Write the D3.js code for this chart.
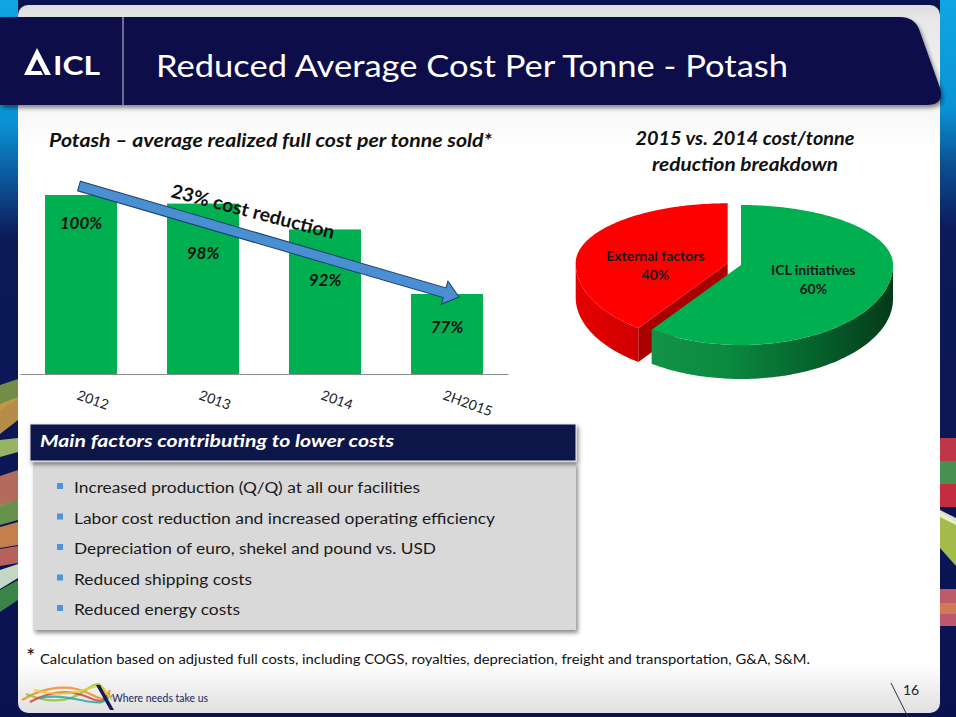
<!DOCTYPE html>
<html>
<head>
<meta charset="utf-8">
<script src="https://cdn.jsdelivr.net/npm/d3@7"></script>
<style>
  body { margin: 0; background: #0b1250; }
  svg { display: block; font-family: Lato, 'Open Sans', sans-serif; }
</style>
</head>
<body>
<script>
const width = 956
const height = 717

// chart data
const categories = ['2012', '2013', '2014', '2H2015']
const costShare = [100, 98, 92, 77]
const arrowLabel = '23% cost reduction'
const pieNames = ['ICL initiatives', 'External factors']
const pieShares = [60, 40]
const factors = [
  'Increased production (Q/Q) at all our facilities',
  'Labor cost reduction and increased operating efficiency',
  'Depreciation of euro, shekel and pound vs. USD',
  'Reduced shipping costs',
  'Reduced energy costs'
]

// layout bits (not data)
const labelDy = [34, 55, 57, 39]
const factorWidths = [346, 421, 362, 178, 166]
const pieExplode = [0, 14]

const fit = (sel, w) => sel.attr('textLength', w).attr('lengthAdjust', 'spacingAndGlyphs')

const svg = d3.select('body')
  .append('svg')
  .attr('width', width)
  .attr('height', height)

const defs = svg.append('defs')

function vGrad(id, stops, x1 = 0, y1 = 0, x2 = 0, y2 = 1, units) {
  const g = defs.append('linearGradient').attr('id', id)
    .attr('x1', x1).attr('y1', y1).attr('x2', x2).attr('y2', y2)
  if (units) g.attr('gradientUnits', units)
  stops.forEach(s => g.append('stop').attr('offset', s[0]).attr('stop-color', s[1]))
}
vGrad('stripL', [[0, '#10a6e2'], [0.17, '#0a93d4'], [0.26, '#0b4f92'], [0.33, '#0c1a5a'], [1, '#0b1250']])
vGrad('stripR', [[0, '#10a6e2'], [0.15, '#0a93d4'], [0.23, '#0b4f92'], [0.32, '#0c1a5a'], [1, '#0b1250']])
vGrad('card', [[0, '#dcdcdc'], [0.02, '#e8e8e8'], [0.15, '#f7f7f7'], [0.2, '#ffffff'], [0.93, '#ffffff'], [1, '#e0e0e0']])

const shadow = defs.append('filter').attr('id', 'shadow').attr('x', '-5%').attr('y', '-10%').attr('width', '115%').attr('height', '130%')
shadow.append('feDropShadow').attr('dx', 2).attr('dy', 3).attr('stdDeviation', 2).attr('flood-color', '#000').attr('flood-opacity', 0.45)

// background strips
svg.append('rect').attr('x', 0).attr('y', 0).attr('width', 18).attr('height', height).attr('fill', 'url(#stripL)')
svg.append('rect').attr('x', 940).attr('y', 0).attr('width', 16).attr('height', height).attr('fill', 'url(#stripR)')

const stripesL = [
  ['#7d9a44', 'M0,385 L18,379 L18,398 L0,411 Z'],
  ['#c99a45', 'M0,404 L18,397 L18,420 L0,434 Z'],
  ['#a6c466', 'M0,440 L18,438 L18,452 L0,457 Z'],
  ['#c4765c', 'M0,476 L18,470 L18,500 L0,507 Z'],
  ['#6fa04a', 'M0,505 L18,500 L18,520 L0,525 Z'],
  ['#d98a4e', 'M0,527 L18,522 L18,545 L0,548 Z'],
  ['#c86a5c', 'M0,549 L18,546 L18,563 L0,566 Z'],
  ['#d8ecd0', 'M0,570 L18,564 L18,578 L0,589 Z'],
  ['#3f8f48', 'M0,590 L18,580 L18,600 L0,612 Z']
]
const stripesR = [
  ['#d23a48', 'M940,438 L956,438 L956,461 L940,461 Z'],
  ['#4c9e52', 'M940,461 L956,461 L956,484 L940,484 Z'],
  ['#d8303e', 'M940,484 L956,484 L956,507 L940,507 Z'],
  ['#b5cc4a', 'M940,512 L956,522 L956,566 L940,548 Z'],
  ['#eef4d8', 'M940,510 L956,518 L956,525 L940,517 Z'],
  ['#d2636e', 'M940,589 L956,589 L956,603 L940,603 Z'],
  ['#e58656', 'M940,603 L956,603 L956,614 L940,614 Z'],
  ['#cf5f70', 'M940,614 L956,614 L956,626 L940,626 Z']
]
svg.append('g').selectAll('path').data(stripesL.concat(stripesR)).join('path')
  .attr('d', d => d[1]).attr('fill', d => d[0]).attr('opacity', 0.9)

// white card
svg.append('rect')
  .attr('x', 18).attr('y', 5).attr('width', 922).attr('height', 708).attr('rx', 10)
  .attr('fill', 'url(#card)')

// header band
svg.append('path')
  .attr('d', 'M0,17 H900 Q914,17 919,29 L940,88 Q945,105 927,105 H0 Z')
  .attr('fill', '#0a1049')
  .attr('filter', 'url(#shadow)')

svg.append('line').attr('x1', 123).attr('x2', 123).attr('y1', 17).attr('y2', 105)
  .attr('stroke', '#c9cde0').attr('stroke-width', 1)

// ICL logo
svg.append('path')
  .attr('d', 'M24,75 L37,48 L51,75 L45,75 L37,59 L31,71 L41,71 L43,75 Z')
  .attr('fill', '#fff')
svg.append('text').text('ICL')
  .attr('x', 53).attr('y', 75).attr('fill', '#fff')
  .attr('font-size', 26).attr('font-weight', 'bold')
  .call(fit, 47)

svg.append('text').text('Reduced Average Cost Per Tonne - Potash')
  .attr('x', 156).attr('y', 77).attr('fill', '#fff')
  .attr('font-size', 31)
  .call(fit, 632)

// ---- bar chart ----
svg.append('text').text('Potash \u2013 average realized full cost per tonne sold*')
  .attr('x', 49).attr('y', 147)
  .attr('font-size', 18).attr('font-weight', 'bold').attr('font-style', 'italic')
  .attr('fill', '#111')
  .call(fit, 443)

const xScale = d3.scaleBand()
  .domain(categories)
  .range([20, 508])
  .paddingInner(0.41)
  .paddingOuter(0.205)

const yScale = d3.scaleLinear()
  .domain([58.4, 100])
  .range([374, 195])

const bars = categories.map((c, i) => ({ cat: c, value: costShare[i], dy: labelDy[i] }))

svg.append('g').selectAll('rect')
  .data(bars)
  .join('rect')
  .attr('x', d => xScale(d.cat))
  .attr('y', d => yScale(d.value))
  .attr('width', xScale.bandwidth())
  .attr('height', d => yScale.range()[0] - yScale(d.value))
  .attr('fill', '#00b050')

svg.append('g').selectAll('text')
  .data(bars)
  .join('text')
  .text(d => d.value + '%')
  .attr('x', d => xScale(d.cat) + xScale.bandwidth() / 2)
  .attr('y', d => yScale(d.value) + d.dy)
  .attr('text-anchor', 'middle')
  .attr('font-size', 17).attr('font-weight', 'bold').attr('font-style', 'italic')
  .attr('fill', '#111')

const xAxis = d3.axisBottom(xScale).tickSize(0).tickSizeOuter(0)

svg.append('g')
  .attr('transform', 'translate(0,' + yScale.range()[0] + ')')
  .call(xAxis)
  .call(g => g.select('.domain').attr('stroke', '#8c8c8c'))
  .call(g => g.selectAll('text')
    .attr('y', 0).attr('dy', 0).attr('x', 0)
    .attr('text-anchor', 'start')
    .attr('transform', 'translate(-5,25) rotate(20)')
    .attr('font-family', 'Lato, sans-serif')
    .attr('font-size', 14)
    .attr('fill', '#222'))

// trend arrow from first bar to last bar
const first = bars[0], last = bars[bars.length - 1]
const tail = [xScale(first.cat) + xScale.bandwidth() / 2 - 2, yScale(first.value) - 9]
const tip = [xScale(last.cat) + xScale.bandwidth() / 2 + 12, yScale(last.value) + 3]
const arrowLen = Math.hypot(tip[0] - tail[0], tip[1] - tail[1])
const arrowAng = Math.atan2(tip[1] - tail[1], tip[0] - tail[0]) * 180 / Math.PI
const hl = 15, sw = 5, hw = 12
svg.append('path')
  .attr('d', d3.line()([[0, -sw], [arrowLen - hl, -sw], [arrowLen - hl, -hw], [arrowLen, 0],
    [arrowLen - hl, hw], [arrowLen - hl, sw], [0, sw]]) + 'Z')
  .attr('transform', `translate(${tail[0]},${tail[1]}) rotate(${arrowAng})`)
  .attr('fill', '#4a8fd1')
  .attr('stroke', '#1f3f73')
  .attr('stroke-width', 1)

svg.append('text').text(arrowLabel)
  .attr('transform', 'translate(170,197) rotate(14.5)')
  .attr('font-size', 19).attr('font-weight', 'bold')
  .attr('fill', '#111')
  .call(fit, 168)

// ---- 3D pie ----
svg.append('text').text('2015 vs. 2014 cost/tonne')
  .attr('x', 745).attr('y', 145).attr('text-anchor', 'middle')
  .attr('font-size', 18).attr('font-weight', 'bold').attr('font-style', 'italic').attr('fill', '#111')
  .call(fit, 219)
svg.append('text').text('reduction breakdown')
  .attr('x', 745).attr('y', 171).attr('text-anchor', 'middle')
  .attr('font-size', 18).attr('font-weight', 'bold').attr('font-style', 'italic').attr('fill', '#111')
  .call(fit, 186)

// perspective: the back half of the disc is flatter than the front half
const pieCx = 741, pieCy = 265, rx = 152, ryBack = 60, ryFront = 80, depth = 34
const pieTop = ['#00b050', '#ff0000']
const pieWall = ['#0a7a38', '#a80000']

vGrad('sideG', [[0, '#1a9a4c'], [0.45, '#0b8a40'], [0.75, '#06612c'], [1, '#033a19']], pieCx - rx, 0, pieCx + rx, 0, 'userSpaceOnUse')
vGrad('sideR', [[0, '#e60000'], [0.5, '#c80000'], [1, '#a00000']], pieCx - rx - 14, 0, pieCx, 0, 'userSpaceOnUse')
const pieSide = ['url(#sideG)', 'url(#sideR)']

const pt = (a, o, z) => {
  const c = Math.cos(a)
  return [pieCx + o[0] + rx * Math.sin(a), pieCy + o[1] - (c > 0 ? ryBack : ryFront) * c + z]
}
const rim = (a0, a1, o, z) => {
  const n = Math.max(2, Math.ceil(Math.abs(a1 - a0) / 0.02))
  return d3.range(n + 1).map(i => pt(a0 + (a1 - a0) * i / n, o, z))
}
const line = d3.line()

const arcs = d3.pie().sort(null)(pieShares).map((a, i) => {
  const mid = (a.startAngle + a.endAngle) / 2
  const o = [pieExplode[i] * Math.sin(mid), -pieExplode[i] * Math.cos(mid) * ryBack / rx]
  return { ...a, i, mid, o, name: pieNames[i] }
})

const pieG = svg.append('g')
// red (exploded) slice first, green in front
arcs.slice().reverse().forEach(d => {
  const g = pieG.append('g')
  const c = [pieCx + d.o[0], pieCy + d.o[1]]
  // radial walls facing the viewer
  if (Math.sin(d.startAngle) < -0.01) {
    const p = pt(d.startAngle, d.o, 0)
    g.append('path').attr('d', line([c, p, [p[0], p[1] + depth], [c[0], c[1] + depth]]) + 'Z')
      .attr('fill', pieWall[d.i])
  }
  if (Math.sin(d.endAngle) > 0.01) {
    const p = pt(d.endAngle, d.o, 0)
    g.append('path').attr('d', line([c, p, [p[0], p[1] + depth], [c[0], c[1] + depth]]) + 'Z')
      .attr('fill', pieWall[d.i])
  }
  // outer wall (front half only)
  const s = Math.max(d.startAngle, Math.PI / 2), e = Math.min(d.endAngle, Math.PI * 1.5)
  if (e > s) {
    const pts = rim(s, e, d.o, 0).concat(rim(e, s, d.o, depth))
    g.append('path').attr('d', line(pts) + 'Z').attr('fill', pieSide[d.i])
  }
  // top face
  g.append('path').attr('d', line([c].concat(rim(d.startAngle, d.endAngle, d.o, 0))) + 'Z')
    .attr('fill', pieTop[d.i])
})

const pieLabels = svg.append('g').selectAll('g')
  .data(arcs)
  .join('g')
  .attr('transform', d => {
    const p = pt(d.mid, d.o, 0)
    const c = [pieCx + d.o[0], pieCy + d.o[1]]
    return `translate(${c[0] + (p[0] - c[0]) * 0.5},${c[1] + (p[1] - c[1]) * 0.3})`
  })
pieLabels.append('text').text(d => d.name)
  .attr('y', 3).attr('text-anchor', 'middle')
  .attr('font-size', 14).attr('font-weight', 'bold').attr('fill', '#1a1a1a')
pieLabels.append('text').text(d => d.data + '%')
  .attr('y', 22).attr('text-anchor', 'middle')
  .attr('font-size', 14).attr('font-weight', 'bold').attr('fill', '#1a1a1a')

// ---- factors box ----
svg.append('rect').attr('x', 33).attr('y', 463).attr('width', 543).attr('height', 167)
  .attr('fill', '#d9d9d9').attr('filter', 'url(#shadow)')
svg.append('rect').attr('x', 30).attr('y', 424).attr('width', 546).attr('height', 37)
  .attr('fill', '#10174a').attr('stroke', '#e8e8f0').attr('stroke-width', 1)
  .attr('filter', 'url(#shadow)')
svg.append('text').text('Main factors contributing to lower costs')
  .attr('x', 40).attr('y', 447)
  .attr('font-size', 17).attr('font-weight', 'bold').attr('font-style', 'italic').attr('fill', '#fff')
  .call(fit, 354)

const rowY = d3.scalePoint().domain(d3.range(factors.length)).range([487, 609])
const rows = svg.append('g').selectAll('g')
  .data(factors)
  .join('g')
  .attr('transform', (d, i) => `translate(0,${rowY(i)})`)
rows.append('rect').attr('x', 57).attr('y', -4).attr('width', 6).attr('height', 6).attr('fill', '#4f93d8')
rows.append('text').text(d => d)
  .attr('x', 74).attr('y', 6)
  .attr('font-size', 15.5).attr('fill', '#1a1a1a')
  .each(function (d, i) { d3.select(this).call(fit, factorWidths[i]) })

// footnote
svg.append('text').text('*').attr('x', 26).attr('y', 664).attr('font-size', 22).attr('fill', '#111')
svg.append('text')
  .text('Calculation based on adjusted full costs, including COGS, royalties, depreciation, freight and transportation, G&A, S&M.')
  .attr('x', 40).attr('y', 664)
  .attr('font-size', 13.5).attr('fill', '#111')
  .call(fit, 770)

// footer logo
const ribbons = [
  ['#e8932c', 'M22,700 C45,686 70,684 88,693 S104,700 110,690'],
  ['#8cc63f', 'M26,694 C50,704 70,702 86,690 S100,686 108,696'],
  ['#d9433b', 'M30,702 C52,690 72,690 90,698 S104,694 110,694'],
  ['#2aa8a0', 'M40,698 C60,694 76,700 92,702 S104,698 112,696'],
  ['#f0c93a', 'M34,690 C56,696 74,694 90,688 S104,692 112,700']
]
svg.append('g').selectAll('path').data(ribbons).join('path')
  .attr('d', d => d[1]).attr('fill', 'none').attr('stroke', d => d[0])
  .attr('stroke-width', 2.2).attr('opacity', 0.85)
svg.append('path').attr('d', 'M96,685 L100,685 L114,710 L110,710 Z').attr('fill', '#131a55')
svg.append('text').text('Where needs take us')
  .attr('x', 112).attr('y', 702).attr('font-size', 12).attr('fill', '#1a1f5e')
  .call(fit, 96)

// page number
svg.append('text').text('16').attr('x', 903).attr('y', 695).attr('font-size', 14).attr('fill', '#222')
svg.append('line').attr('x1', 891).attr('y1', 683).attr('x2', 908).attr('y2', 717)
  .attr('stroke', '#333').attr('stroke-width', 1)
</script>
</body>
</html>
